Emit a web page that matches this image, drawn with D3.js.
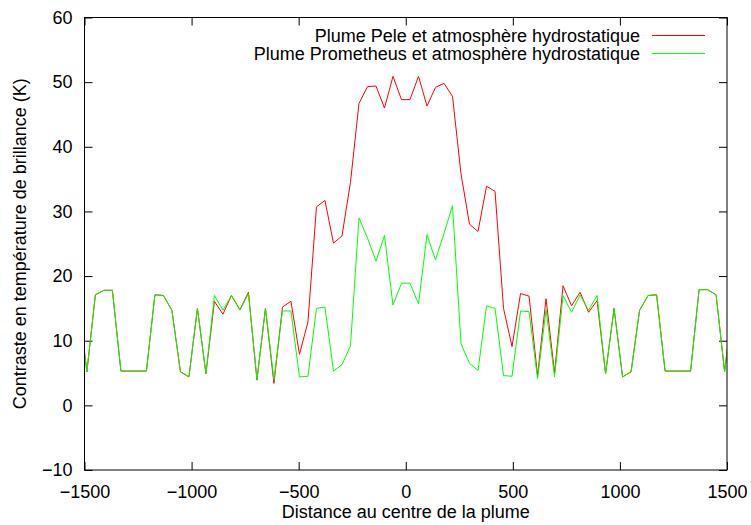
<!DOCTYPE html>
<html>
<head>
<meta charset="utf-8">
<script src="https://cdn.jsdelivr.net/npm/d3@7"></script>
<style>
  body { margin: 0; background: #fff; overflow: hidden; }
  svg { display: block; }
  svg text { font-family: "Liberation Sans", Arial, sans-serif; font-size: 18px; fill: #000; }
</style>
</head>
<body>
<svg></svg>
<script>
// distance au centre (pas régulier d'environ 39.7)
const distance = [
  -1528.5, -1488.8, -1449.1, -1409.4, -1369.7, -1330.0, -1290.3, -1250.6, -1210.9, -1171.2,
  -1131.5, -1091.8, -1052.1, -1012.4, -972.7, -933.0, -893.3, -853.6, -813.9, -774.2,
  -734.5, -694.8, -655.1, -615.4, -575.7, -536.0, -496.3, -456.6, -416.9, -377.2,
  -337.5, -297.8, -258.1, -218.4, -178.7, -139.0, -99.3, -59.6, -19.9,
  19.9, 59.6, 99.3, 139.0, 178.7, 218.4, 258.1, 297.8, 337.5, 377.2,
  416.9, 456.6, 496.3, 536.0, 575.7, 615.4, 655.1, 694.8, 734.5, 774.2,
  813.9, 853.6, 893.3, 933.0, 972.7, 1012.4, 1052.1, 1091.8, 1131.5, 1171.2,
  1210.9, 1250.6, 1290.3, 1330.0, 1369.7, 1409.4, 1449.1, 1488.8, 1528.5
];

const pele = [
  16, 5.2, 17.1, 17.8, 17.8, 5.3, 5.3, 5.3, 5.3, 17.1,
  17.0, 14.7, 5.2, 4.4, 15.0, 4.9, 16.1, 14.1, 17.0, 14.8,
  17.5, 3.9, 15.0, 3.4, 15.2, 16.1, 7.9, 12.9, 30.7, 31.7,
  25.1, 26.2, 34.5, 46.7, 49.3, 49.4, 46.0, 50.9, 47.3,
  47.3, 50.9, 46.3, 49.2, 49.8, 47.8, 35.8, 28.0, 26.9, 33.9,
  33.1, 15.0, 9.1, 17.3, 16.9, 4.6, 16.5, 5.0, 18.5, 15.4,
  17.5, 14.4, 16.2, 4.9, 15.0, 4.4, 5.2, 14.7, 17.0, 17.1,
  5.3, 5.3, 5.3, 5.3, 17.9, 17.9, 17.1, 5.2, 16
];

const prometheus = [
  16, 5.2, 17.1, 17.8, 17.8, 5.3, 5.3, 5.3, 5.3, 17.1,
  17.0, 14.7, 5.2, 4.4, 15.0, 4.9, 17.0, 14.7, 17.0, 14.7,
  17.3, 4.0, 15.0, 4.0, 14.6, 14.6, 4.4, 4.5, 15.0, 15.2,
  5.3, 6.3, 9.2, 29.0, 25.9, 22.3, 26.3, 15.5, 18.9,
  18.9, 15.7, 26.4, 22.5, 26.6, 30.9, 9.5, 6.5, 5.4, 15.4,
  15.0, 4.6, 4.5, 14.6, 14.5, 4.1, 14.8, 4.4, 17.0, 14.4,
  17.1, 14.7, 17.0, 4.9, 15.0, 4.4, 5.2, 14.7, 17.0, 17.1,
  5.3, 5.3, 5.3, 5.3, 17.9, 17.9, 17.1, 5.2, 16
];

const xTicks = [-1500, -1000, -500, 0, 500, 1000, 1500];
const yTicks = [-10, 0, 10, 20, 30, 40, 50, 60];

const seriesNames = [
  'Plume Pele et atmosphère hydrostatique',
  'Plume Prometheus et atmosphère hydrostatique'
];
const seriesColors = ['#ff0000', '#00ff00'];

const width = 751;
const height = 525;
const margin = { left: 84.5, top: 17.5, right: 24, bottom: 55 };
const innerWidth = width - margin.left - margin.right;
const innerHeight = height - margin.top - margin.bottom;

const svg = d3.select('svg')
  .attr('width', width)
  .attr('height', height);

const g = svg.append('g')
  .attr('transform', `translate(${margin.left}, ${margin.top})`);

const x = d3.scaleLinear().domain([-1500, 1500]).range([0, innerWidth]);
const y = d3.scaleLinear().domain([-10, 60]).range([innerHeight, 0]);

// axes, ticks vers l'intérieur (et en miroir)
const fmt = d3.format('d');
const bottomAxis = g.append('g')
  .attr('transform', `translate(0, ${innerHeight})`)
  .call(d3.axisBottom(x).tickValues(xTicks).tickFormat(fmt).tickSize(-8).tickPadding(15));
const leftAxis = g.append('g')
  .call(d3.axisLeft(y).tickValues(yTicks).tickFormat(fmt).tickSize(-8).tickPadding(12));
const topAxis = g.append('g')
  .call(d3.axisTop(x).tickValues(xTicks).tickSize(-8));
const rightAxis = g.append('g')
  .attr('transform', `translate(${innerWidth}, 0)`)
  .call(d3.axisRight(y).tickValues(yTicks).tickSize(-8));

// pas de libellés sur les axes miroirs
topAxis.selectAll('text').remove();
rightAxis.selectAll('text').remove();

[bottomAxis, leftAxis, topAxis, rightAxis].forEach(a => {
  a.select('.domain').remove();
  a.selectAll('.tick line').attr('stroke', '#000').attr('stroke-width', 1);
  a.selectAll('text').attr('font-size', null).attr('font-family', null).attr('fill', '#000');
});

// courbes
svg.append('defs').append('clipPath').attr('id', 'clip')
  .append('rect').attr('width', innerWidth).attr('height', innerHeight);

const line = d3.line()
  .x((d, i) => x(distance[i]))
  .y(d => y(d));

const plot = g.append('g').attr('clip-path', 'url(#clip)');
[pele, prometheus].forEach((s, i) => {
  plot.append('path')
    .datum(s)
    .attr('d', line)
    .attr('fill', 'none')
    .attr('stroke', seriesColors[i])
    .attr('stroke-width', 1);
});

// cadre
g.append('rect')
  .attr('width', innerWidth)
  .attr('height', innerHeight)
  .attr('fill', 'none')
  .attr('stroke', '#000')
  .attr('stroke-width', 1);

// légende
const legend = svg.append('g');
seriesNames.forEach((name, i) => {
  const ly = 35.5 + i * 18;
  legend.append('text')
    .attr('x', 640)
    .attr('y', ly)
    .attr('dy', '0.35em')
    .attr('text-anchor', 'end')
    .text(name);
  legend.append('line')
    .attr('x1', 652).attr('x2', 705)
    .attr('y1', ly).attr('y2', ly)
    .attr('stroke', seriesColors[i])
    .attr('stroke-width', 1);
});

// titres des axes
svg.append('text')
  .attr('x', margin.left + innerWidth / 2)
  .attr('y', 518)
  .attr('text-anchor', 'middle')
  .text('Distance au centre de la plume');

svg.append('text')
  .attr('transform', `translate(26, ${margin.top + innerHeight / 2}) rotate(-90)`)
  .attr('text-anchor', 'middle')
  .text('Contraste en température de brillance (K)');
</script>
</body>
</html>
